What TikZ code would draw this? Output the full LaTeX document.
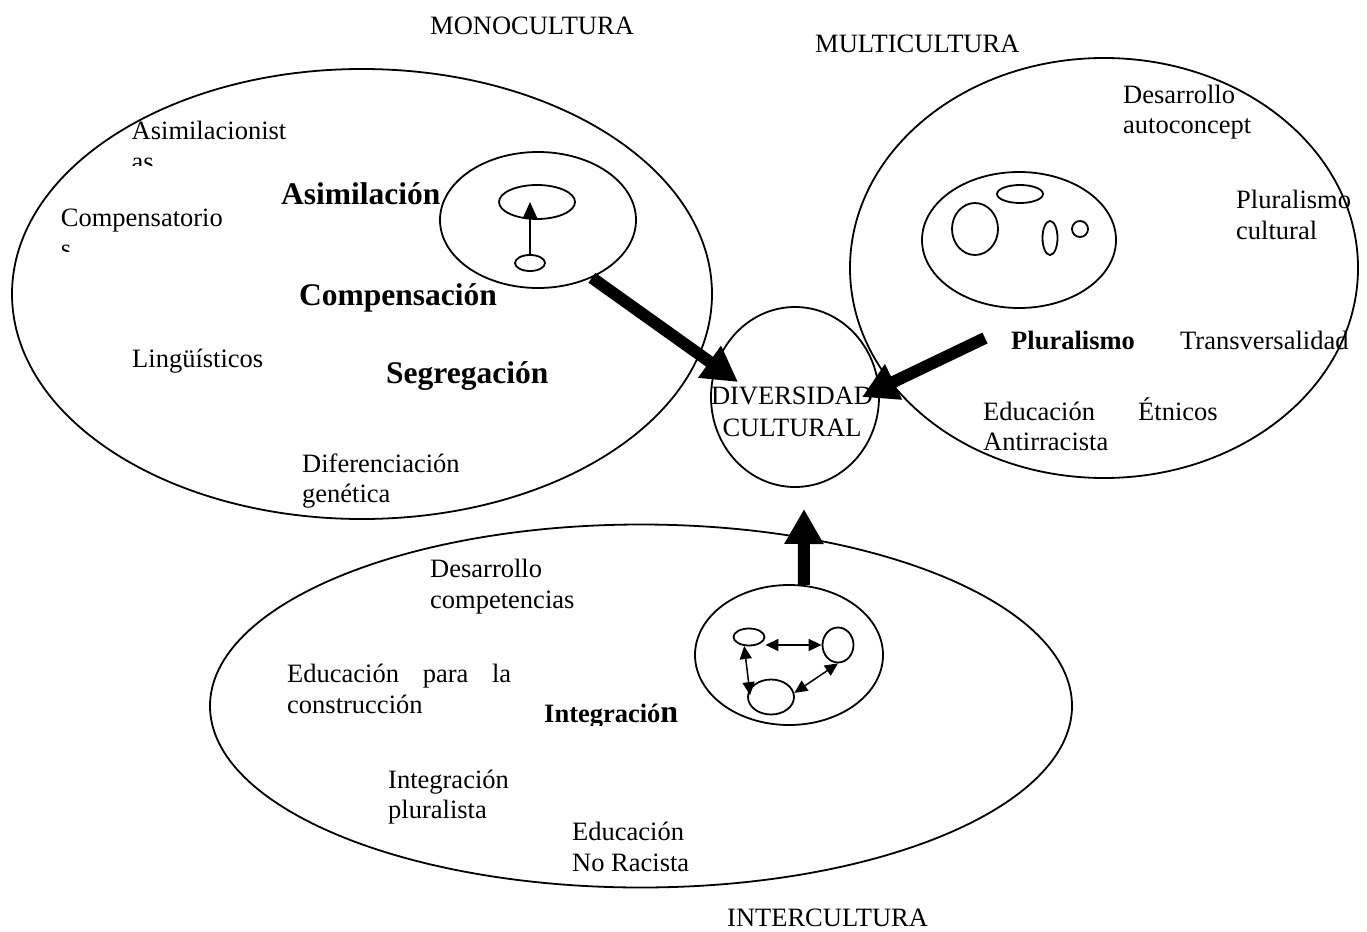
\documentclass[tikz,border=0pt]{standalone}
\usepackage{fontspec}
\setmainfont{Liberation Serif}
\usetikzlibrary{shapes.geometric,arrows.meta,calc}
\begin{document}
\begin{tikzpicture}[x=1pt,y=-1pt,
  oval/.style={draw, ellipse, line width=1.8pt, inner sep=0pt},
  lbl/.style={anchor=base west, inner sep=0pt, font=\fontsize{26.5}{30.5}\selectfont},
  hdr/.style={anchor=base west, inner sep=0pt, font=\fontsize{31.5}{36}\selectfont\bfseries},
  bigarrow/.style={line width=12pt, -{Triangle[length=35pt,width=37pt]}},
  thinarrow/.style={line width=1.5pt, -{Triangle[length=16pt,width=14pt]}},
  dblarrow/.style={line width=1.5pt, {Triangle[length=13pt,width=12pt]}-{Triangle[length=13pt,width=12pt]}}]
\useasboundingbox (0,0) rectangle (1367,931);

% big ellipses
\node[oval, minimum width=700pt, minimum height=450pt] (mono) at (362,294) {};
\node[oval, minimum width=508pt, minimum height=420pt] (multi) at (1104,268) {};
\node[oval, minimum width=862pt, minimum height=363pt] (inter) at (641,706) {};
\node[oval, minimum width=168pt, minimum height=180pt] (div) at (795,397) {};

% asimilacion inner
\node[oval, minimum width=196pt, minimum height=136pt] (asim) at (538,220) {};
\node[oval, minimum width=76pt, minimum height=34pt] (sa1) at (537,202) {};
\node[oval, minimum width=30pt, minimum height=16pt] (sa2) at (530,263) {};
\draw[thinarrow] (sa2.north) -- (sa2.north |- sa1.center);

% pluralismo inner
\node[oval, minimum width=194pt, minimum height=136pt] (plur) at (1019,240) {};
\node[oval, minimum width=46pt, minimum height=18pt] (m1) at (1020,194) {};
\node[oval, minimum width=46pt, minimum height=52pt] (m2) at (975,229) {};
\node[oval, minimum width=15pt, minimum height=34pt] (m3) at (1050,238) {};
\node[oval, minimum width=16pt, minimum height=16pt] (m4) at (1080,229) {};

% integracion inner
\node[oval, minimum width=188pt, minimum height=140pt] (integ) at (789,655) {};
\node[oval, minimum width=31pt, minimum height=17pt] (e1) at (749,637) {};
\node[oval, minimum width=31pt, minimum height=35pt] (e2) at (838,645) {};
\node[oval, minimum width=46pt, minimum height=35pt] (e3) at (771,697) {};
\draw[dblarrow] (e1.east |- e2.west) -- (e2.west);
\draw[dblarrow, shorten >=-6pt] (e1.-118) -- (e3.160);
\draw[dblarrow] (e2.south) -- (e3.10);

% titles
\node[lbl] (tmono) at (430,35) {MONOCULTURA};
\node[lbl] (tmulti) at (815,53) {MULTICULTURA};
\node[lbl] (tinter) at (727,926) {INTERCULTURA};

% monocultura texts
\begin{scope}
\clip (120,105) rectangle (300,165.5);
\node[lbl] (asm1) at (131.5,139.3) {Asimilacionist};
\node[lbl] (asm2) at (131.5,170) {as};
\end{scope}
\begin{scope}
\clip (50,195) rectangle (260,251.7);
\node[lbl] (cmp1) at (60.7,226.7) {Compensatorio};
\node[lbl] (cmp2) at (60.7,257.5) {s};
\end{scope}
\node[hdr] (hasim) at (281,204) {Asimilación};
\node[hdr] (hcomp) at (299,305) {Compensación};
\node[hdr] (hseg) at (386,383) {Segregación};
\node[lbl] (ling) at (132,367) {Lingüísticos};
\node[lbl] (dif1) at (302,472) {Diferenciación};
\node[lbl] (dif2) at (302,502) {genética};

% multicultura texts
\node[lbl] (dau1) at (1123,104) {Desarrollo};
\node[lbl] (dau2) at (1123,134) {autoconcept};
\node[lbl] (plc1) at (1236,208) {Pluralismo};
\node[lbl] (plc2) at (1236,239) {cultural};
\node[lbl, font=\fontsize{26.5}{30.5}\selectfont\bfseries] (hplur) at (1011,349) {Pluralismo};
\node[lbl] (trans) at (1180,349) {Transversalidad};
\node[lbl] (ant1) at (983,420) {Educación};
\node[lbl] (ant2) at (983,450) {Antirracista};
\node[lbl] (etn) at (1138,420) {Étnicos};

% diversidad
\node[lbl, anchor=base] (div1) at (792,404) {DIVERSIDAD};
\node[lbl, anchor=base] (div2) at (792,436) {CULTURAL};

% intercultura texts
\node[lbl] (dc1) at (430,577) {Desarrollo};
\node[lbl] (dc2) at (430,608) {competencias};
\node[lbl] (epc1) at (287,682) {\makebox[224pt][s]{Educación para la}};
\node[lbl] (epc2) at (287,713) {construcción};
\begin{scope}
\clip (530,680) rectangle (700,725);
\node[lbl, font=\fontsize{26.5}{30.5}\selectfont\bfseries] (hint) at (544,722) {Integració{\fontsize{32}{36}\selectfont n}};
\end{scope}
\node[lbl] (ip1) at (388,788) {Integración};
\node[lbl] (ip2) at (388,818) {pluralista};
\node[lbl] (enr1) at (572,840) {Educación};
\node[lbl] (enr2) at (572,871) {No Racista};

% big arrows
\coordinate (tip1) at (738,382);
\coordinate (tail2) at (985,338);
\coordinate (tip2) at (862,397);
\coordinate (tip3) at (804,509);
\draw[bigarrow] (asim.-47) -- (tip1);
\draw[bigarrow] (tail2) -- (tip2);
\draw[bigarrow] (integ.78) -- (tip3);
\end{tikzpicture}
\end{document}
